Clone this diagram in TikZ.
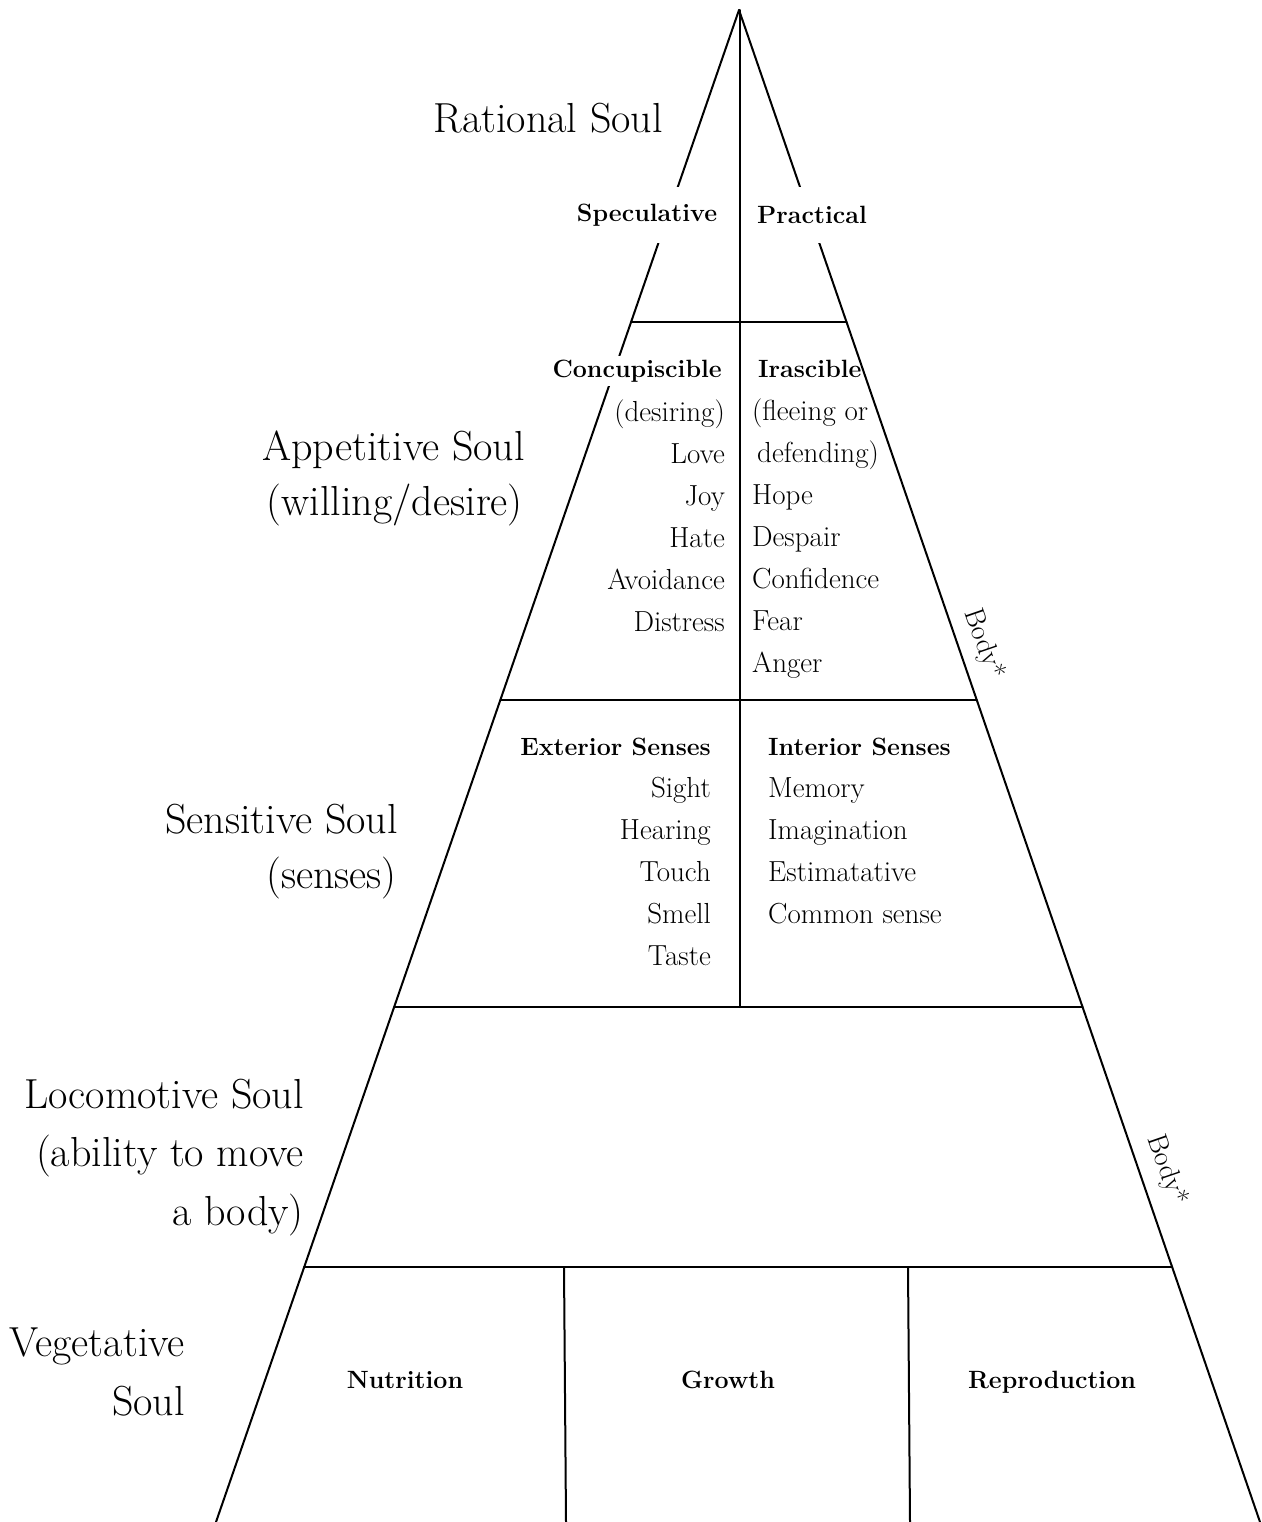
\documentclass[tikz,border=0pt]{standalone}
\usepackage{fontspec}
\begin{document}
\begin{tikzpicture}[x=1pt,y=-1pt,
  edge/.style={line width=2pt, line cap=round},
  big/.style={font=\fontsize{42}{50}\selectfont, inner sep=0pt, anchor=base east},
  head/.style={font=\fontsize{25}{30}\selectfont\bfseries, inner sep=4pt},
  item/.style={font=\fontsize{29}{34}\selectfont, inner sep=0pt},
  iteml/.style={item, anchor=base east},
  itemr/.style={item, anchor=base west},
  bodylbl/.style={font=\fontsize{28}{32}\selectfont, inner sep=0pt, rotate=-71},
]
\useasboundingbox (0,0) rectangle (1261,1522);
\fill[white] (0,0) rectangle (1261,1522);

% frame coordinates
\coordinate (A) at (739,10);
\coordinate (BL) at (216,1522);
\coordinate (BR) at (1260,1522);
\coordinate (L1) at (631,322);  \coordinate (R1) at (846.5,322);
\coordinate (L2) at (500.3,700); \coordinate (R2) at (976.8,700);
\coordinate (L3) at (394.1,1007); \coordinate (R3) at (1082.6,1007);
\coordinate (L4) at (304.2,1267); \coordinate (R4) at (1172.2,1267);
\coordinate (C0) at (740,10); \coordinate (C3) at (740,1007);
\coordinate (V1t) at (564,1267); \coordinate (V1b) at (566,1522);
\coordinate (V2t) at (908,1267); \coordinate (V2b) at (910,1522);

% outer edges
\draw[edge] (A) -- (BL);
\draw[edge] (A) -- (BR);

% rational soul
\node[big] (rat) at (663,133) {Rational Soul};
\node[head, fill=white, minimum height=56pt] (spec) at (647,215) {Speculative};
\node[head, fill=white, minimum height=56pt] (prac) at (812,215) {Practical};

% appetitive soul
\node[big] (app1) at (525,460) {Appetitive Soul};
\node[big] (app2) at (523,515) {(willing/desire)};
\node[head, fill=white, anchor=base east] (conc) at (726,377) {Concupiscible};
\node[head, anchor=base west] (iras) at (754,377) {Irascible};

\node[iteml] (c1) at (725,421) {(desiring)};
\node[iteml] (c2) at (725,463) {Love};
\node[iteml] (c3) at (725,505) {Joy};
\node[iteml] (c4) at (725,547) {Hate};
\node[iteml] (c5) at (725,589) {Avoidance};
\node[iteml] (c6) at (725,631) {Distress};

\node[itemr] (i1) at (752,420) {(fleeing or};
\node[itemr] (i2) at (757,462) {defending)};
\node[itemr] (i3) at (752,504) {Hope};
\node[itemr] (i4) at (752,546) {Despair};
\node[itemr] (i5) at (752,588) {Confidence};
\node[itemr] (i6) at (752,630) {Fear};
\node[itemr] (i7) at (752,672) {Anger};

\node[bodylbl] (body1) at (984,644) {Body*};

% sensitive soul
\node[big] (sen1) at (398,833) {Sensitive Soul};
\node[big] (sen2) at (397,888) {(senses)};
\node[head, anchor=base east] (ext) at (715,755) {Exterior Senses};
\node[head, anchor=base west] (int) at (764,755) {Interior Senses};

\node[iteml] (e1) at (711,797) {Sight};
\node[iteml] (e2) at (711,839) {Hearing};
\node[iteml] (e3) at (711,881) {Touch};
\node[iteml] (e4) at (711,923) {Smell};
\node[iteml] (e5) at (711,965) {Taste};

\node[itemr] (n1) at (768,797) {Memory};
\node[itemr] (n2) at (768,839) {Imagination};
\node[itemr] (n3) at (768,881) {Estimatative};
\node[itemr] (n4) at (768,923) {Common sense};

% locomotive soul
\node[big] (loc1) at (304,1108) {Locomotive Soul};
\node[big] (loc2) at (304,1166) {(ability to move};
\node[big] (loc3) at (304,1225) {a body)};
\node[bodylbl] (body2) at (1167,1170) {Body*};

% vegetative soul
\node[big] (veg1) at (185,1356) {Vegetative};
\node[big] (veg2) at (185,1415) {Soul};
\node[head, anchor=base] (nut) at (405,1388) {Nutrition};
\node[head, anchor=base] (gro) at (728,1388) {Growth};
\node[head, anchor=base] (rep) at (1052,1388) {Reproduction};

% inner lines
\draw[edge] (C0) -- (C3);
\draw[edge] (L1) -- (R1);
\draw[edge] (L2) -- (R2);
\draw[edge] (L3) -- (R3);
\draw[edge] (L4) -- (R4);
\draw[edge] (V1t) -- (V1b);
\draw[edge] (V2t) -- (V2b);
\end{tikzpicture}
\end{document}
